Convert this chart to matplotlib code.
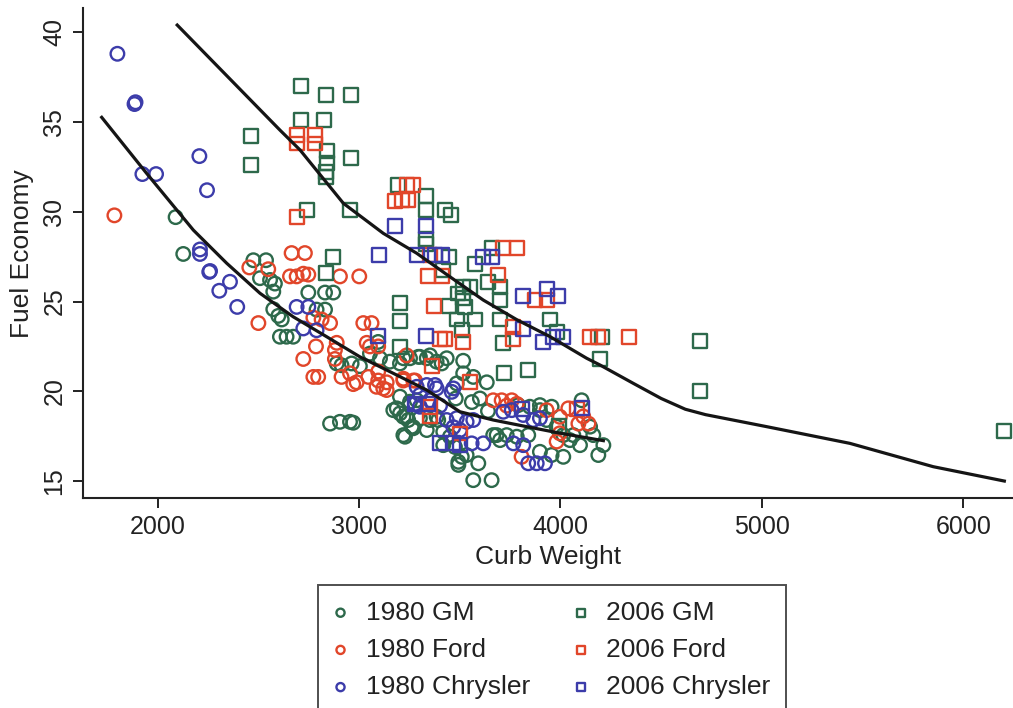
import matplotlib
matplotlib.use("Agg")
import matplotlib.pyplot as plt

plt.rcParams['font.family'] = ['Liberation Sans', 'DejaVu Sans']

# 1980 cars (circles)
gm80_x = [2089, 2127, 2475, 2538, 2508, 2558, 2582, 2574, 2748, 2831, 2872, 2574, 2599, 2616,
          2789, 2831, 2607, 2640, 2673, 2889, 2913, 2963, 3004, 3104, 3153, 3203, 3253, 3302,
          3336, 3385, 3170, 3236, 3269, 3228, 3203, 3286, 2856, 2905, 2955, 2971, 3054, 3220,
          3294, 3352, 3410, 3435, 3517, 3517, 3567, 3485, 3634, 3253, 3187, 3220, 3261, 3220,
          3302, 3352, 3393, 3418, 3451, 3418, 3476, 3493, 3510, 3534, 3592, 3567, 3658, 3666,
          3700, 3790, 3848, 3898, 3683, 3733, 3783, 3840, 3898, 3956, 4014, 3898, 3956, 3931,
          3981, 4105, 4147, 4163, 4213, 4188, 4097, 4047, 4014, 4064, 3203, 3244, 3269, 3336,
          3385, 3493, 3560, 3600, 3640, 3480, 3095]
gm80_y = [29.7, 27.65, 27.3, 27.3, 26.3, 26.2, 26.0, 25.55, 25.5, 25.5, 25.5, 24.57, 24.2, 24.0,
          24.55, 24.55, 23.04, 23.04, 23.04, 21.55, 21.45, 21.55, 21.4, 21.84, 21.65, 21.55, 21.84, 21.92,
          21.84, 21.65, 18.95, 18.6, 18.0, 17.47, 19.7, 19.5, 18.2, 18.3, 18.3, 18.25, 22.1, 21.84,
          21.92, 22.0, 21.55, 21.84, 21.7, 21.0, 20.8, 20.44, 20.5, 19.42, 19.05, 18.58, 18.02, 17.56,
          18.5, 18.4, 18.4, 17.75, 17.47, 17.0, 16.9, 16.07, 16.35, 16.45, 15.99, 15.05, 15.05, 17.56,
          17.28, 19.23, 19.14, 18.95, 17.56, 17.56, 17.47, 17.56, 16.63, 16.45, 16.35, 19.23, 19.14, 18.4,
          18.03, 19.5, 18.03, 17.56, 17.0, 16.45, 17.0, 17.28, 17.56, 17.56, 18.77, 18.4, 17.94, 17.84,
          18.58, 15.9, 19.4, 19.6, 18.9, 19.6, 22.75]

ford80_x = [1785, 2455, 2549, 2665, 2731, 2657, 2690, 2723, 2748, 2905, 3001, 2500, 2773, 2814,
            2856, 2786, 2723, 2889, 2880, 3021, 3062, 3054, 3095, 2880, 2773, 2797, 2913, 2955,
            2988, 2971, 3087, 3137, 3095, 3236, 3220, 3269, 3038, 3046, 3095, 3120, 3137, 3220,
            3278, 3666, 3708, 3733, 3758, 3783, 3807, 3931, 3997, 3997, 3981, 4039, 4089, 4139, 4113]
ford80_y = [29.8, 26.9, 26.8, 27.7, 27.7, 26.4, 26.4, 26.55, 26.5, 26.4, 26.4, 23.8, 24.1, 24.0,
            23.8, 22.5, 21.8, 22.7, 22.3, 23.8, 23.8, 22.5, 22.5, 21.8, 20.8, 20.8, 20.8, 21.0,
            20.5, 20.4, 20.25, 20.07, 21.1, 22.0, 20.6, 20.6, 22.7, 20.8, 20.6, 20.16, 20.5, 20.7,
            20.6, 19.5, 19.5, 19.2, 19.5, 19.3, 16.35, 18.95, 18.58, 17.66, 17.2, 19.05, 18.2, 18.2, 18.6]

chry80_x = [1800, 1885, 1890, 2207, 1924, 1992, 2245, 2210, 2210, 2256, 2260, 2359, 2306, 2395,
            2690, 2748, 2723, 2789, 3286, 3377, 3302, 3336, 3385, 3468, 3460, 3278, 3302, 3352,
            3402, 3435, 3485, 3468, 3501, 3534, 3567, 3559, 3617, 3716, 3758, 3815, 3865, 3898,
            3766, 3815, 3840, 3882, 3923]
chry80_y = [38.8, 36.0, 36.1, 33.1, 32.1, 32.1, 31.2, 27.65, 27.9, 26.65, 26.7, 26.1, 25.6, 24.7,
            24.7, 24.7, 23.5, 23.4, 20.25, 20.35, 19.14, 20.35, 20.16, 20.16, 19.97, 19.3, 19.8, 19.5,
            19.2, 18.4, 18.5, 18.0, 17.84, 18.3, 18.4, 17.1, 17.1, 18.86, 18.95, 18.68, 18.4, 18.5,
            17.1, 17.0, 15.99, 15.99, 15.99]

# 2006 cars (squares)
gm06_x = [2712, 2836, 2960, 2712, 2824, 2462, 2462, 2839, 2839, 2836, 2836, 2960, 2740, 2955,
          3195, 3332, 3332, 3426, 3455, 3332, 3332, 2869, 3448, 3418, 3658, 3576, 3518, 3551,
          3641, 3700, 3493, 3518, 3526, 3485, 3576, 3700, 3700, 3510, 3716, 3948, 3981, 4205,
          4196, 3448, 3203, 3203, 3203, 3840, 3721, 4693, 4693, 6204, 2834, 3993]
gm06_y = [37.0, 36.5, 36.5, 35.1, 35.1, 34.2, 32.6, 33.4, 32.7, 32.2, 31.95, 33.0, 30.1, 30.1,
          31.5, 30.9, 30.1, 30.1, 29.8, 28.5, 28.2, 27.5, 27.5, 26.75, 28.0, 27.1, 25.8, 25.8,
          26.1, 25.8, 25.45, 25.2, 24.7, 24.0, 24.0, 25.1, 24.0, 23.4, 22.7, 24.0, 23.3, 23.0,
          21.8, 24.75, 24.9, 23.9, 22.45, 21.2, 21.0, 22.8, 20.0, 17.8, 26.6, 18.06]

ford06_x = [2690, 2690, 2781, 2781, 2690, 3178, 3212, 3245, 3236, 3269, 3344, 3410, 3716, 3783,
            3691, 3873, 3931, 3766, 3766, 4147, 4188, 4342, 3372, 3402, 3426, 3514, 3360, 3352,
            3352, 3551, 3501, 4080, 3352]
ford06_y = [34.3, 33.8, 34.3, 33.8, 29.7, 30.6, 30.65, 30.65, 31.5, 31.5, 26.4, 26.4, 28.0, 28.0,
            26.5, 25.1, 25.1, 23.6, 22.9, 23.0, 23.0, 23.0, 24.75, 22.9, 22.9, 22.75, 21.4, 19.14,
            18.6, 20.5, 17.65, 19.0, 27.6]

chry06_x = [3178, 3332, 3099, 3286, 3377, 3410, 3617, 3658, 3815, 3931, 3989, 3812, 3915, 3964,
            4014, 3332, 3095, 4105, 3402, 3468, 3501, 3807, 3278, 3344]
chry06_y = [29.2, 29.2, 27.6, 27.6, 27.6, 27.6, 27.5, 27.5, 25.3, 25.7, 25.3, 23.45, 22.75, 23.0,
            23.0, 23.1, 23.1, 19.05, 17.1, 17.1, 17.0, 19.0, 19.3, 19.3]

# smoothed lines
fit06_x = [2097, 2607, 2707, 2922, 3120, 3286, 3451, 3617, 3786, 3949, 4130, 4197, 4362, 4500,
           4620, 4720, 5024, 5437, 5851, 6204]
fit06_y = [40.4, 34.55, 33.44, 30.47, 28.8, 27.69, 26.38, 25.08, 23.97, 23.04, 21.84, 21.46, 20.44,
           19.6, 19.0, 18.7, 18.03, 17.1, 15.8, 15.0]
fit80_x = [1722, 1945, 2177, 2343, 2508, 2673, 2839, 3004, 3170, 3336, 3501, 3666, 3832, 4001, 4213]
fit80_y = [35.26, 32.14, 28.98, 27.13, 25.46, 24.15, 23.04, 21.92, 21.0, 20.07, 18.86, 18.4, 18.03,
           17.66, 17.25]

c_gm = '#2d694b'
c_ford = '#e1462a'
c_chry = '#3c3caa'

fig = plt.figure(figsize=(10.13, 7.08), dpi=100)
ax = fig.add_axes([0.0819, 0.2962, 0.9181, 0.6925])

groups = [
    (gm80_x, gm80_y, c_gm, 'o', '1980 GM'),
    (ford80_x, ford80_y, c_ford, 'o', '1980 Ford'),
    (chry80_x, chry80_y, c_chry, 'o', '1980 Chrysler'),
    (gm06_x, gm06_y, c_gm, 's', '2006 GM'),
    (ford06_x, ford06_y, c_ford, 's', '2006 Ford'),
    (chry06_x, chry06_y, c_chry, 's', '2006 Chrysler'),
]
handles = []
for gx, gy, col, mk, lab in groups:
    size = 95 if mk == 'o' else 100
    h = ax.scatter(gx, gy, s=size, marker=mk, facecolors='none', edgecolors=col,
                   linewidths=1.7, label=lab, zorder=2)
    handles.append(h)

ax.plot(fit80_x, fit80_y, color='#151515', lw=2.3, zorder=3)
ax.plot(fit06_x, fit06_y, color='#151515', lw=2.3, zorder=3)

ax.set_xlim(1629, 6247)
ax.set_ylim(14.04, 41.35)
ax.set_xticks([2000, 3000, 4000, 5000, 6000])
ax.set_yticks([15, 20, 25, 30, 35, 40])
for s in ['top', 'right']:
    ax.spines[s].set_visible(False)
for s in ['left', 'bottom']:
    ax.spines[s].set_linewidth(1.5)
    ax.spines[s].set_color('#222222')
ax.tick_params(length=7, width=1.4, labelsize=18, pad=5, color='#222222', labelcolor='#222222')
ax.tick_params(axis='y', labelrotation=90)
for t in ax.get_yticklabels():
    t.set_va('center')

ax.set_xlabel('Curb Weight', fontsize=19, color='#222222', labelpad=4)
ax.set_ylabel('Fuel Economy', fontsize=19, color='#222222', labelpad=6)

leg = fig.legend(handles=handles, loc='upper left', bbox_to_anchor=(0.314, 0.174),
                 ncol=2, fontsize=19, frameon=True, fancybox=False, markerscale=0.6,
                 handlelength=0.5, handletextpad=0.7, columnspacing=1.7,
                 labelspacing=0.5, borderpad=0.6, borderaxespad=0)
leg.get_frame().set_edgecolor('#222222')
leg.get_frame().set_linewidth(1.4)
for t in leg.get_texts():
    t.set_color('#222222')

fig.savefig('out.png', dpi=100)
